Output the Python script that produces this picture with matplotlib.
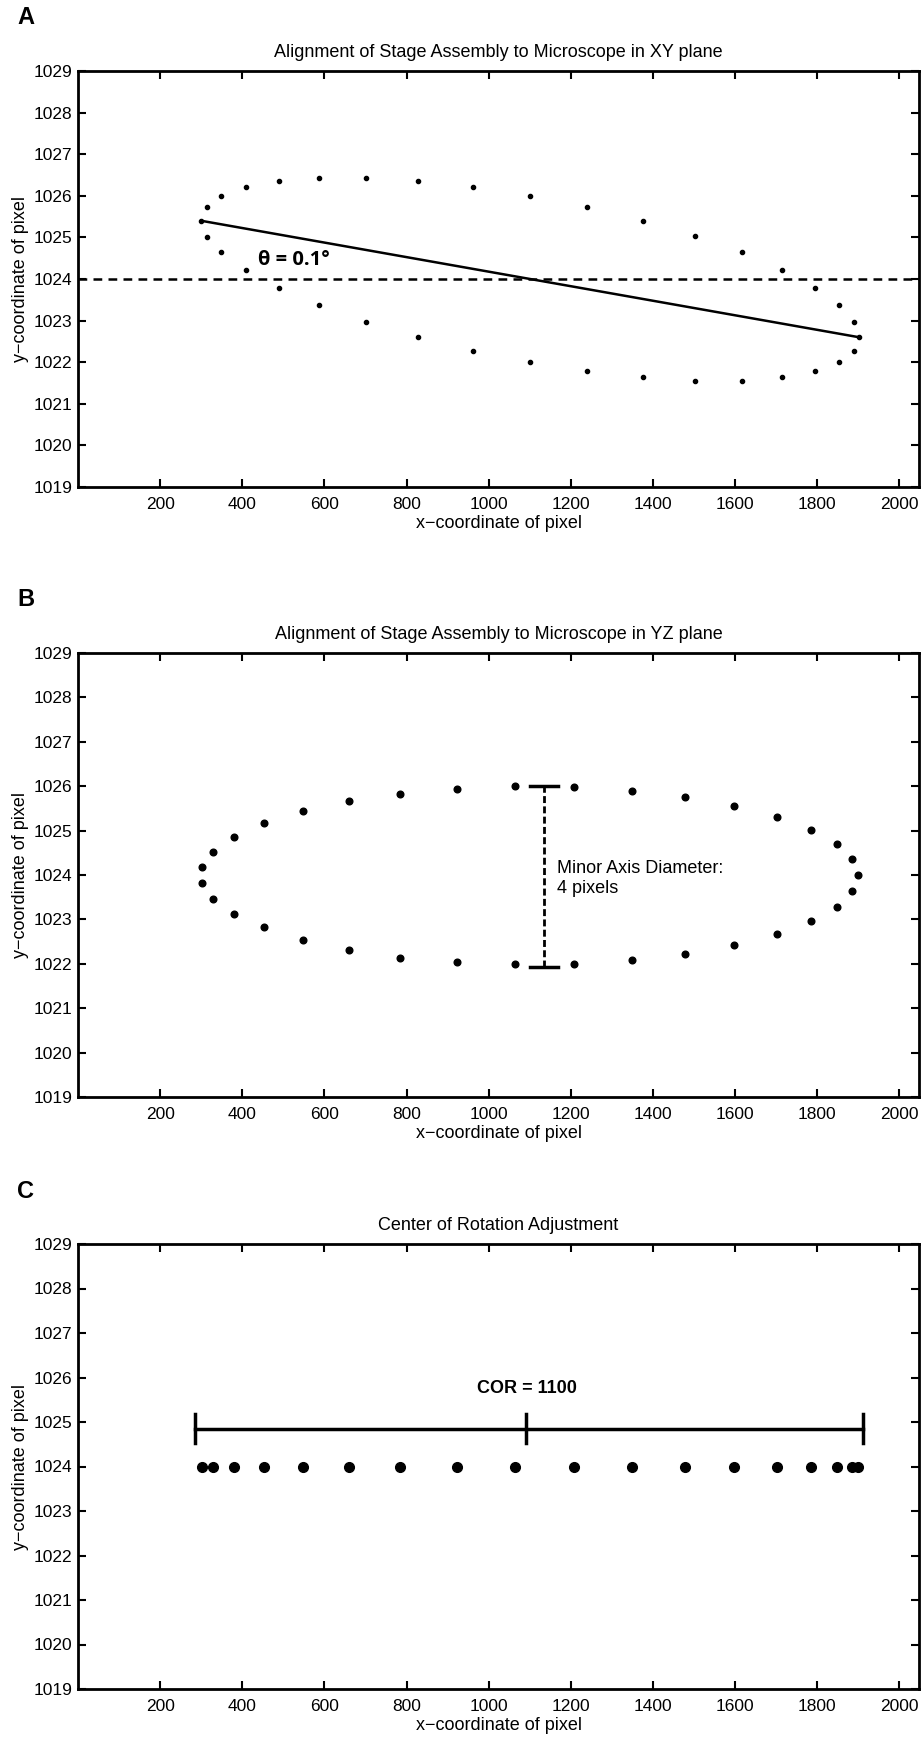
import matplotlib
matplotlib.use("Agg")
import matplotlib.pyplot as plt
import numpy as np

plt.rcParams['font.family'] = ['Liberation Sans', 'DejaVu Sans']
plt.rcParams['axes.unicode_minus'] = True

# panel A: tilted ellipse in XY plane (top arc then bottom arc)
xy_x = [300, 313, 349, 409, 489, 588, 702, 828, 963, 1101, 1240, 1376, 1503, 1616, 1714, 1794, 1854, 1890, 1902,
        313, 349, 409, 489, 588, 702, 828, 963, 1101, 1240, 1376, 1503, 1616, 1714, 1794, 1854, 1890]
xy_y = [1025.40, 1025.73, 1026.00, 1026.21, 1026.36, 1026.43, 1026.43, 1026.36, 1026.21, 1026.00,
        1025.73, 1025.40, 1025.03, 1024.64, 1024.21, 1023.79, 1023.37, 1022.97, 1022.60,
        1025.02, 1024.64, 1024.21, 1023.79, 1023.37, 1022.97, 1022.60, 1022.26, 1022.00,
        1021.78, 1021.64, 1021.56, 1021.56, 1021.64, 1021.78, 1022.00, 1022.26]
tilt_x = [300, 1902]
tilt_y = [1025.40, 1022.60]
ref_y = 1024
theta_label = "θ = 0.1°"

# panel B: ellipse in YZ plane
yz_x = [303, 303, 329, 329, 379, 379, 454, 454, 547, 547, 661, 661, 785, 785, 922, 922, 1064, 1064,
        1207, 1207, 1348, 1348, 1478, 1478, 1597, 1597, 1702, 1702, 1785, 1785, 1848, 1848, 1886, 1886, 1899]
yz_y = [1024.18, 1023.81, 1024.52, 1023.45, 1024.86, 1023.12, 1025.16, 1022.82, 1025.44, 1022.54,
        1025.66, 1022.32, 1025.83, 1022.14, 1025.94, 1022.04, 1026.00, 1021.99, 1025.98, 1022.00,
        1025.90, 1022.08, 1025.76, 1022.23, 1025.56, 1022.43, 1025.31, 1022.67, 1025.02, 1022.96,
        1024.70, 1023.29, 1024.35, 1023.64, 1024.00]
minor_x = 1135
minor_y = [1021.92, 1026.0]
minor_label = "Minor Axis Diameter:\n4 pixels"

# panel C: centre of rotation
cor_x = [303, 329, 379, 454, 547, 661, 785, 922, 1064, 1207, 1348, 1478, 1597, 1702, 1785, 1848, 1886, 1899]
cor_y = [1024] * len(cor_x)
cor_span = [286, 1912]
cor_mid = 1090
cor_bar_y = 1024.85
cor_label = "COR = 1100"

xticks = [200, 400, 600, 800, 1000, 1200, 1400, 1600, 1800, 2000]
yticks = list(range(1019, 1030))

titles = ["Alignment of Stage Assembly to Microscope in XY plane",
          "Alignment of Stage Assembly to Microscope in YZ plane",
          "Center of Rotation Adjustment"]
letters = ["A", "B", "C"]

W, H = 923, 1737
fig = plt.figure(figsize=(W / 100, H / 100), dpi=100)

# axes boxes in pixels: (top, bottom)
boxes = [(71, 487), (653, 1097), (1244, 1689)]
left, right = 78, 919
axs = []
for (top, bot) in boxes:
    ax = fig.add_axes([left / W, 1 - bot / H, (right - left) / W, (bot - top) / H])
    axs.append(ax)

for i, ax in enumerate(axs):
    ax.set_xlim(0, 2048)
    ax.set_ylim(1019, 1029)
    ax.set_xticks(xticks)
    ax.set_yticks(yticks)
    ax.tick_params(direction='in', length=5.5, width=1.5, top=True, right=True,
                   labelsize=12.5)
    ax.tick_params(axis='x', pad=7)
    ax.tick_params(axis='y', pad=4)
    for s in ax.spines.values():
        s.set_linewidth(2)
    ax.set_title(titles[i], fontsize=13, pad=10)
    ax.set_xlabel("x\u2212coordinate of pixel", fontsize=13, labelpad=2)
    ax.set_ylabel("y\u2212coordinate of pixel", fontsize=13, labelpad=3)
    top = boxes[i][0]
    fig.text(17 / W, 1 - (top - 53) / H, letters[i], fontsize=17, fontweight='bold',
             ha='left', va='center')

# A
ax = axs[0]
ax.plot(xy_x, xy_y, 'o', color='black', markersize=3)
ax.plot(tilt_x, tilt_y, '-', color='black', linewidth=1.8)
ax.axhline(ref_y, color='black', linestyle=(0, (3.5, 2.5)), linewidth=1.8)
ax.text(439, 1024.45, theta_label, fontsize=14.5, fontweight='bold', ha='left', va='center',
        family=['Open Sans', 'DejaVu Sans'])

# B
ax = axs[1]
ax.plot(yz_x, yz_y, 'o', color='black', markersize=4.8)
ax.plot([minor_x, minor_x], minor_y, color='black', linestyle=(0, (2.5, 1.2)), linewidth=2)
for yv in minor_y:
    ax.plot([minor_x - 34, minor_x + 34], [yv, yv], color='black', linewidth=2.5)
ax.text(1166, 1023.92, minor_label, fontsize=13, ha='left', va='center', linespacing=1.25)

# C
ax = axs[2]
ax.plot(cor_x, cor_y, 'o', color='black', markersize=7)
ax.plot(cor_span, [cor_bar_y, cor_bar_y], color='black', linewidth=2.5)
for xv in cor_span + [cor_mid]:
    ax.plot([xv, xv], [cor_bar_y - 0.33, cor_bar_y + 0.33], color='black', linewidth=2.5)
ax.text(1093, 1025.75, cor_label, fontsize=13, fontweight='bold', ha='center', va='center')

fig.savefig("out.png", dpi=100)
